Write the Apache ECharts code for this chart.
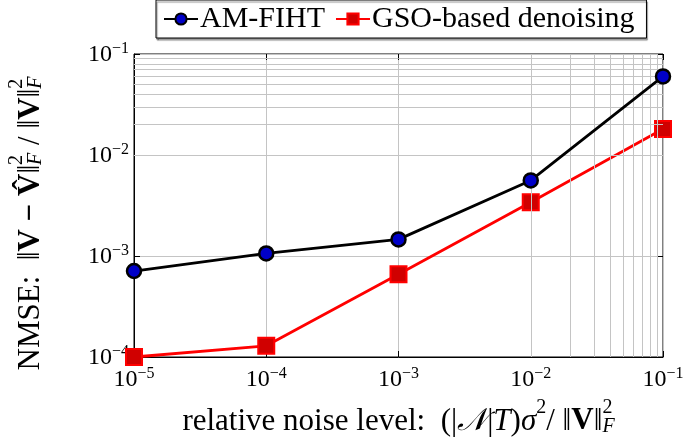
<!DOCTYPE html>
<html>
<head>
<meta charset="utf-8">
<script src="https://cdn.jsdelivr.net/npm/echarts@6/dist/echarts.min.js"></script>
<style>
  html, body { margin: 0; padding: 0; background: #fff; }
  #chart { width: 684px; height: 438px; }
</style>
</head>
<body>
<div id="chart"></div>
<script>
// noise levels (x) and NMSE values for the two methods
let noiseLevels = [1e-5, 1e-4, 1e-3, 1e-2, 1e-1];
let amFiht = [7.1e-4, 1.06e-3, 1.46e-3, 5.6e-3, 6.0e-2];
let gsoDenoise = [1.0e-4, 1.29e-4, 6.6e-4, 3.4e-3, 1.81e-2];
let seriesNames = ['AM-FIHT', 'GSO-based denoising'];

// minor grid positions (2..9 in each decade)
let xMinor = [];
let yMinor = [];
for (let d = -5; d < -1; d++) {
    for (let k = 2; k <= 9; k++) xMinor.push(k * Math.pow(10, d));
}
for (let d = -4; d < -1; d++) {
    for (let k = 2; k <= 9; k++) yMinor.push(k * Math.pow(10, d));
}

const serif = '"Liberation Serif", "DejaVu Serif", serif';
const gridGray = '#c4c4c4';

function powLabel(v) {
    let e = Math.round(Math.log10(v));
    return '{b|10}{s|' + (e < 0 ? '\u2212' + (-e) : e) + '}';
}
let tickRich = {
    b: { fontFamily: serif, fontSize: 24, color: '#000', verticalAlign: 'bottom', lineHeight: 26 },
    s: { fontFamily: serif, fontSize: 16, color: '#000', verticalAlign: 'top', lineHeight: 26, padding: [0, 0, 11, 0] }
};

function nameRich(size) {
    let small = Math.round(size * 0.66);
    let lh = Math.round(size * 1.25);
    return {
        t: { fontFamily: serif, fontSize: size, color: '#000', lineHeight: lh, verticalAlign: 'bottom' },
        i: { fontFamily: serif, fontSize: size, fontStyle: 'italic', color: '#000', lineHeight: lh, verticalAlign: 'bottom' },
        bf: { fontFamily: serif, fontSize: size, fontWeight: 'bold', color: '#000', lineHeight: lh, verticalAlign: 'bottom' },
        s: { fontFamily: serif, fontSize: small, color: '#000', lineHeight: lh, verticalAlign: 'top', padding: [0, 0, Math.round(size * 0.5), 0] },
        u: { fontFamily: serif, fontSize: small, fontStyle: 'italic', color: '#000', lineHeight: lh, verticalAlign: 'bottom', padding: [Math.round(size * 0.4), 0, 0, -small * 0.5] }
    };
}

let ctx = document.getElementById('chart');
let chart = echarts.init(ctx);

let option = {
    animation: false,
    grid: {
        left: 134,
        right: 21,
        top: 54,
        bottom: 81,
        outerBoundsMode: 'none',
        containLabel: false,
        show: true,
        borderColor: '#000',
        borderWidth: 1
    },
    legend: {
        data: seriesNames,
        left: 156,
        top: 0,
        orient: 'horizontal',
        backgroundColor: '#fff',
        borderColor: '#000',
        borderWidth: 1,
        shadowColor: 'rgba(0,0,0,0.45)',
        shadowOffsetX: 1,
        shadowOffsetY: 2,
        shadowBlur: 1,
        padding: [4, 12, 4, 7],
        itemGap: 10,
        itemWidth: 34,
        itemHeight: 14,
        textStyle: { fontFamily: serif, fontSize: 30, color: '#000', padding: [0, 0, 0, -3] }
    },
    xAxis: [{
        type: 'log',
        logBase: 10,
        min: 1e-5,
        max: 1e-1,
        name: '{t|relative noise level:  (|}{i|\uD835\uDCA9}{t||}{i|T}{t|)}{i|\u03C3}{s|2}{t|/ \u2016}{bf|V}{t|\u2016}{s|2}{u|F}',
        nameLocation: 'middle',
        nameGap: 35,
        nameTextStyle: { fontFamily: serif, fontSize: 31, rich: nameRich(31) },
        axisLine: { show: true, lineStyle: { color: '#000', width: 1 } },
        axisTick: { show: true, inside: true, length: 6, lineStyle: { color: '#000' } },
        axisLabel: { formatter: powLabel, rich: tickRich, margin: 9, showMinLabel: true, showMaxLabel: true },
        splitLine: { show: true, lineStyle: { color: gridGray, width: 1 } }
    }, {
        type: 'log',
        logBase: 10,
        min: 1e-5,
        max: 1e-1,
        position: 'top',
        axisLine: { show: false },
        axisTick: { show: true, inside: true, length: 6, lineStyle: { color: '#000' } },
        axisLabel: { show: false },
        splitLine: { show: false }
    }],
    yAxis: [{
        type: 'log',
        logBase: 10,
        min: 1e-4,
        max: 1e-1,
        name: '{t|NMSE:  \u2016}{bf|V \u2212 V\u0302}{t|\u2016}{s|2}{u|F}{t| / \u2016}{bf|V}{t|\u2016}{s|2}{u|F}',
        nameLocation: 'middle',
        nameRotate: 90,
        nameGap: 88,
        nameTextStyle: { fontFamily: serif, fontSize: 31, padding: [0, 36, 0, 0], rich: nameRich(31) },
        axisLine: { show: true, lineStyle: { color: '#000', width: 1 } },
        axisTick: { show: true, inside: true, length: 6, lineStyle: { color: '#000' } },
        axisLabel: { formatter: powLabel, rich: tickRich, margin: 5, showMinLabel: true, showMaxLabel: true },
        splitLine: { show: true, lineStyle: { color: gridGray, width: 1 } }
    }, {
        type: 'log',
        logBase: 10,
        min: 1e-4,
        max: 1e-1,
        position: 'right',
        axisLine: { show: false },
        axisTick: { show: true, inside: true, length: 6, lineStyle: { color: '#000' } },
        axisLabel: { show: false },
        splitLine: { show: false }
    }],
    series: [{
        // minor grid lines
        type: 'line',
        data: [],
        silent: true,
        z: 1,
        markLine: {
            silent: true,
            symbol: ['none', 'none'],
            label: { show: false },
            lineStyle: { color: gridGray, width: 1, type: 'solid' },
            data: xMinor.map(v => ({ xAxis: v })).concat(yMinor.map(v => ({ yAxis: v })))
        }
    }, {
        name: seriesNames[0],
        type: 'line',
        data: noiseLevels.map((x, i) => [x, amFiht[i]]),
        symbol: 'circle',
        symbolSize: 14,
        z: 5,
        lineStyle: { color: '#000', width: 2.8 },
        itemStyle: { color: '#0000c8', borderColor: '#000', borderWidth: 2.5 }
    }, {
        name: seriesNames[1],
        type: 'line',
        data: noiseLevels.map((x, i) => [x, gsoDenoise[i]]),
        symbol: 'rect',
        symbolSize: 16,
        z: 4,
        lineStyle: { color: '#ff0000', width: 2.8 },
        itemStyle: { color: '#d00000', borderColor: '#ff0000', borderWidth: 2 }
    }]
};

chart.setOption(option, true);
window.onresize = () => {
    chart.resize();
};
</script>
</body>
</html>
